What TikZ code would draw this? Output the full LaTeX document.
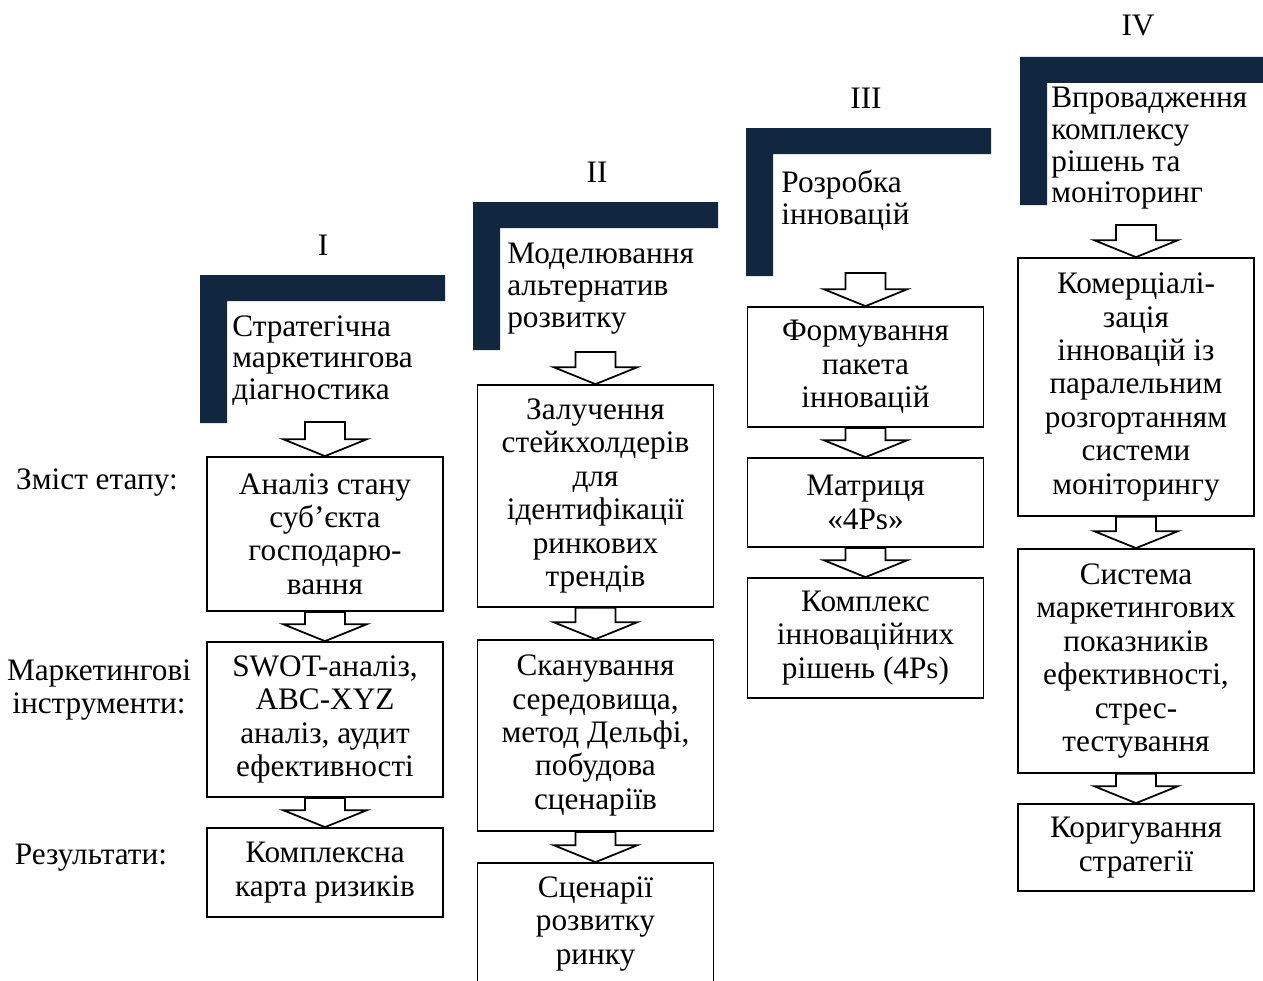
\documentclass[tikz,border=0pt]{standalone}
\usepackage{fontspec}
\setmainfont{Liberation Serif}
\usetikzlibrary{calc}
\definecolor{navy}{RGB}{17,39,64}

\tikzset{
  box/.style={draw, line width=1pt, minimum width=4.72cm, align=center, inner sep=2pt,
    font=\fontsize{17.8}{19}\selectfont},
  hdrtext/.style={anchor=north west, align=left, inner sep=0pt,
    font=\fontsize{17.8}{18}\selectfont},
  lbl/.style={align=center, inner sep=0pt, font=\fontsize{17.8}{19}\selectfont},
  hollow/.style={draw, line width=1pt, fill=white, line join=miter}
}

% block arrow from the point #1 down to the point #2
\newcommand{\hollowarrow}[2]{%
  \draw[hollow] let \p1=(#1), \p2=(#2) in
    (\x2-0.4cm,\y1) -- (\x2+0.4cm,\y1) -- (\x2+0.4cm,\y2+0.34cm) -- (\x2+0.84cm,\y2+0.34cm)
    -- (\x2,\y2) -- (\x2-0.84cm,\y2+0.34cm) -- (\x2-0.4cm,\y2+0.34cm) -- cycle;}

\begin{document}
\begin{tikzpicture}[x=0.02cm, y=-0.02cm]
  \clip (0,0) rectangle (1263,980);

  % stage headers
  \foreach \hx/\hy in {200/275, 473/202, 746/128, 1020/57}
    \fill[navy] (\hx,\hy) -- ++(245,0) -- ++(0,26) -- ++(-218,0) -- ++(0,122) -- ++(-27,0) -- cycle;

  \node[lbl] (n1) at (323,245) {I};
  \node[lbl] (n2) at (597,172) {II};
  \node[lbl] (n3) at (866,98) {III};
  \node[lbl] (n4) at (1138,25) {IV};

  \node[hdrtext] (t1) at (232,315) {Стратегічна\\маркетингова\\діагностика};
  \node[hdrtext] (t2) at (507,243) {Моделювання\\альтернатив\\розвитку};
  \node[hdrtext] (t3) at (781,170) {Розробка\\інновацій};
  \node[hdrtext] (t4) at (1051,87) {Впровадження\\комплексу\\рішень та\\моніторинг};

  \coordinate (h1) at (325,422);
  \coordinate (h2) at (595,352);
  \coordinate (h3) at (865,273);
  \coordinate (h4) at (1136,225);

  % row labels
  \node[lbl] (r1) at (97,483) {Зміст етапу:};
  \node[lbl] (r2) at (99,690) {Маркетингові\\інструменти:};
  \node[lbl] (r3) at (91,858) {Результати:};

  % column I
  \node[box, minimum height=3.08cm] (b11) at (325,534) {Аналіз стану\\суб’єкта\\господарю-\\вання};
  \node[box, minimum height=3.1cm] (b12) at (325,719.5) {SWOT-аналіз,\\ABC-XYZ\\аналіз, аудит\\ефективності};
  \node[box, minimum height=1.78cm] (b13) at (325,872.5) {Комплексна\\карта ризиків};

  % column II
  \node[box, minimum height=4.44cm] (b21) at (595.5,496) {Залучення\\стейкхолдерів\\для\\ідентифікації\\ринкових\\трендів};
  \node[box, minimum height=3.82cm] (b22) at (595.5,735.5) {Сканування\\середовища,\\метод Дельфі,\\побудова\\сценаріїв};
  \node[box, minimum height=2.44cm] (b23) at (595.5,924) {Сценарії\\розвитку\\ринку};

  % column III
  \node[box, minimum height=2.4cm] (b31) at (865.5,367) {Формування\\пакета\\інновацій};
  \node[box, minimum height=1.78cm] (b32) at (865.5,502.5) {Матриця\\«4Ps»};
  \node[box, minimum height=2.4cm] (b33) at (865.5,638) {Комплекс\\інноваційних\\рішень (4Ps)};

  % column IV
  \node[box, minimum height=5.16cm] (b41) at (1136,387) {Комерціалі-\\зація\\інновацій із\\паралельним\\розгортанням\\системи\\моніторингу};
  \node[box, minimum height=4.48cm] (b42) at (1136,661) {Система\\маркетингових\\показників\\ефективності,\\стрес-\\тестування};
  \node[box, minimum height=1.74cm] (b43) at (1136,847.5) {Коригування\\стратегії};

  % arrows
  \hollowarrow{h1}{b11.north}
  \hollowarrow{b11.south}{b12.north}
  \hollowarrow{b12.south}{b13.north}
  \hollowarrow{h2}{b21.north}
  \hollowarrow{b21.south}{b22.north}
  \hollowarrow{b22.south}{b23.north}
  \hollowarrow{h3}{b31.north}
  \hollowarrow{b31.south}{b32.north}
  \hollowarrow{b32.south}{b33.north}
  \hollowarrow{h4}{b41.north}
  \hollowarrow{b41.south}{b42.north}
  \hollowarrow{b42.south}{b43.north}
\end{tikzpicture}
\end{document}
